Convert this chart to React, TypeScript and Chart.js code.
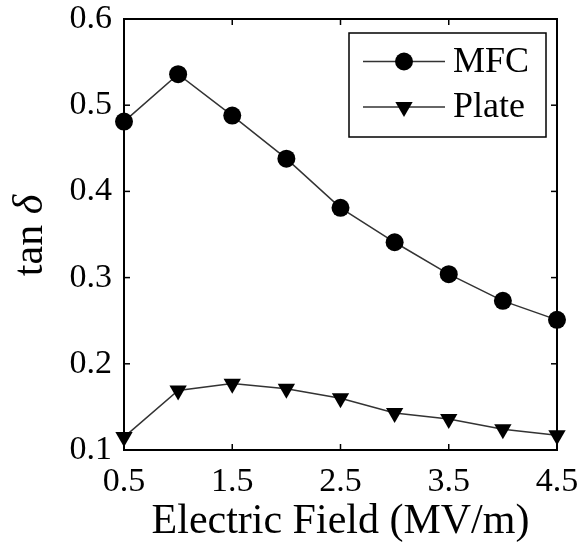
import React, { useEffect, useRef } from 'react';
import { Chart, registerables } from 'chart.js';

Chart.register(...registerables);

const fieldValues = [0.5, 1, 1.5, 2, 2.5, 3, 3.5, 4, 4.5];
const mfcValues = [0.481, 0.536, 0.488, 0.438, 0.381, 0.341, 0.304, 0.273, 0.251];
const plateValues = [0.115, 0.169, 0.177, 0.171, 0.160, 0.143, 0.136, 0.124, 0.117];
const xTickValues = [0.5, 1.5, 2.5, 3.5, 4.5];
const yTickValues = [0.1, 0.2, 0.3, 0.4, 0.5, 0.6];
const seriesLabels = ['MFC', 'Plate'];
const xTitle = 'Electric Field (MV/m)';
const yTitleMain = 'tan ';
const yTitleSymbol = 'δ';

const SERIF = "'Liberation Serif', 'Times New Roman', serif";

function drawMarker(ctx: CanvasRenderingContext2D, style: string, x: number, y: number, r: number) {
  ctx.beginPath();
  if (style === 'circle') {
    ctx.arc(x, y, r, 0, Math.PI * 2);
  } else {
    ctx.moveTo(x, y + r);
    ctx.lineTo(x - r * Math.sin(Math.PI / 3), y - r / 2);
    ctx.lineTo(x + r * Math.sin(Math.PI / 3), y - r / 2);
    ctx.closePath();
  }
  ctx.fill();
}

const framePlugin = {
  id: 'frameTicks',
  afterDatasetsDraw(chart: any) {
    const { ctx, chartArea: a, scales } = chart;
    ctx.save();
    ctx.strokeStyle = '#000';
    ctx.lineWidth = 2;
    ctx.strokeRect(a.left, a.top, a.right - a.left, a.bottom - a.top);
    ctx.lineWidth = 1.5;
    const L = 6;
    const seg = (x1: number, y1: number, x2: number, y2: number) => {
      ctx.beginPath();
      ctx.moveTo(x1, y1);
      ctx.lineTo(x2, y2);
      ctx.stroke();
    };
    scales.x.ticks.forEach((t: any) => {
      const px = scales.x.getPixelForValue(t.value);
      seg(px, a.bottom, px, a.bottom - L);
      seg(px, a.top, px, a.top + L);
    });
    scales.y.ticks.forEach((t: any) => {
      const py = scales.y.getPixelForValue(t.value);
      seg(a.left, py, a.left + L, py);
      seg(a.right, py, a.right - L, py);
    });
    ctx.restore();
  },
};

const legendPlugin = {
  id: 'customLegend',
  afterDraw(chart: any) {
    const { ctx, chartArea: a } = chart;
    const boxLeft = 349;
    const boxTop = a.top + 14;
    const boxW = 197;
    const boxH = 104;
    ctx.save();
    ctx.fillStyle = '#fff';
    ctx.fillRect(boxLeft, boxTop, boxW, boxH);
    ctx.strokeStyle = '#000';
    ctx.lineWidth = 1.5;
    ctx.strokeRect(boxLeft, boxTop, boxW, boxH);
    const rows = [boxTop + 28.5, boxTop + 74];
    chart.data.datasets.forEach((ds: any, i: number) => {
      const y = rows[i];
      ctx.strokeStyle = ds.borderColor;
      ctx.lineWidth = ds.borderWidth;
      ctx.beginPath();
      ctx.moveTo(boxLeft + 14, y);
      ctx.lineTo(boxLeft + 96, y);
      ctx.stroke();
      ctx.fillStyle = '#000';
      drawMarker(ctx, ds.pointStyle, boxLeft + 55, y, ds.pointRadius);
      ctx.font = `36px ${SERIF}`;
      ctx.textBaseline = 'middle';
      ctx.textAlign = 'left';
      ctx.fillText(ds.label, boxLeft + 104, y + 1);
    });
    ctx.restore();
  },
};

const yTitlePlugin = {
  id: 'yTitle',
  afterDraw(chart: any) {
    const { ctx, chartArea: a } = chart;
    const cy = (a.top + a.bottom) / 2 + 1;
    ctx.save();
    ctx.translate(31, cy);
    ctx.rotate(-Math.PI / 2);
    ctx.fillStyle = '#000';
    ctx.textBaseline = 'middle';
    const fMain = `42px ${SERIF}`;
    const fSym = `italic 42px ${SERIF}`;
    ctx.font = fMain;
    const w1 = ctx.measureText(yTitleMain).width;
    ctx.font = fSym;
    const w2 = ctx.measureText(yTitleSymbol).width;
    const start = -(w1 + w2) / 2;
    ctx.textAlign = 'left';
    ctx.font = fMain;
    ctx.fillText(yTitleMain, start, 0);
    ctx.font = fSym;
    ctx.fillText(yTitleSymbol, start + w1, 0);
    ctx.restore();
  },
};

export default function App() {
  const ref = useRef<HTMLCanvasElement | null>(null);

  useEffect(() => {
    document.body.style.margin = '0';
    const canvas = ref.current;
    if (!canvas) return;
    const chart = new Chart(canvas, {
      type: 'line',
      data: {
        datasets: [
          {
            label: seriesLabels[0],
            data: fieldValues.map((x, i) => ({ x, y: mfcValues[i] })),
            borderColor: '#333',
            borderWidth: 1.5,
            pointStyle: 'circle',
            pointRadius: 9,
            pointBackgroundColor: '#000',
            pointBorderColor: '#000',
            pointBorderWidth: 0,
            tension: 0,
            clip: false as any,
          },
          {
            label: seriesLabels[1],
            data: fieldValues.map((x, i) => ({ x, y: plateValues[i] })),
            borderColor: '#333',
            borderWidth: 1.5,
            pointStyle: 'triangle',
            pointRotation: 180,
            pointRadius: 10,
            pointBackgroundColor: '#000',
            pointBorderColor: '#000',
            pointBorderWidth: 0,
            tension: 0,
            clip: false as any,
          },
        ],
      },
      options: {
        responsive: false,
        animation: false,
        layout: { padding: { left: 0, right: 22, top: 19, bottom: 0 } },
        plugins: {
          legend: { display: false },
          tooltip: { enabled: false },
        },
        scales: {
          x: {
            type: 'linear',
            min: 0.5,
            max: 4.5,
            grid: { display: false, drawTicks: false },
            border: { display: false },
            afterBuildTicks: (scale: any) => {
              scale.ticks = xTickValues.map((v) => ({ value: v }));
            },
            afterFit: (scale: any) => {
              scale.height = 95;
              scale.paddingLeft = 0;
              scale.paddingRight = 0;
            },
            ticks: {
              color: '#000',
              padding: 12,
              maxRotation: 0,
              font: { family: SERIF, size: 34 },
              callback: (v: any) => Number(v).toFixed(1),
            },
            title: {
              display: true,
              text: xTitle,
              color: '#000',
              font: { family: SERIF, size: 42 },
              padding: { top: 0, bottom: -2 },
            },
          },
          y: {
            type: 'linear',
            min: 0.1,
            max: 0.6,
            grid: { display: false, drawTicks: false },
            border: { display: false },
            afterBuildTicks: (scale: any) => {
              scale.ticks = yTickValues.map((v) => ({ value: v }));
            },
            afterFit: (scale: any) => {
              scale.width = 124;
              scale.paddingTop = 0;
              scale.paddingBottom = 0;
            },
            ticks: {
              color: '#000',
              padding: 12,
              font: { family: SERIF, size: 34 },
              callback: (v: any) => Number(v).toFixed(1),
            },
          },
        },
      },
      plugins: [framePlugin, legendPlugin, yTitlePlugin],
    } as any);
    return () => chart.destroy();
  }, []);

  return <canvas ref={ref} width={579} height={545} style={{ display: 'block' }} />;
}
